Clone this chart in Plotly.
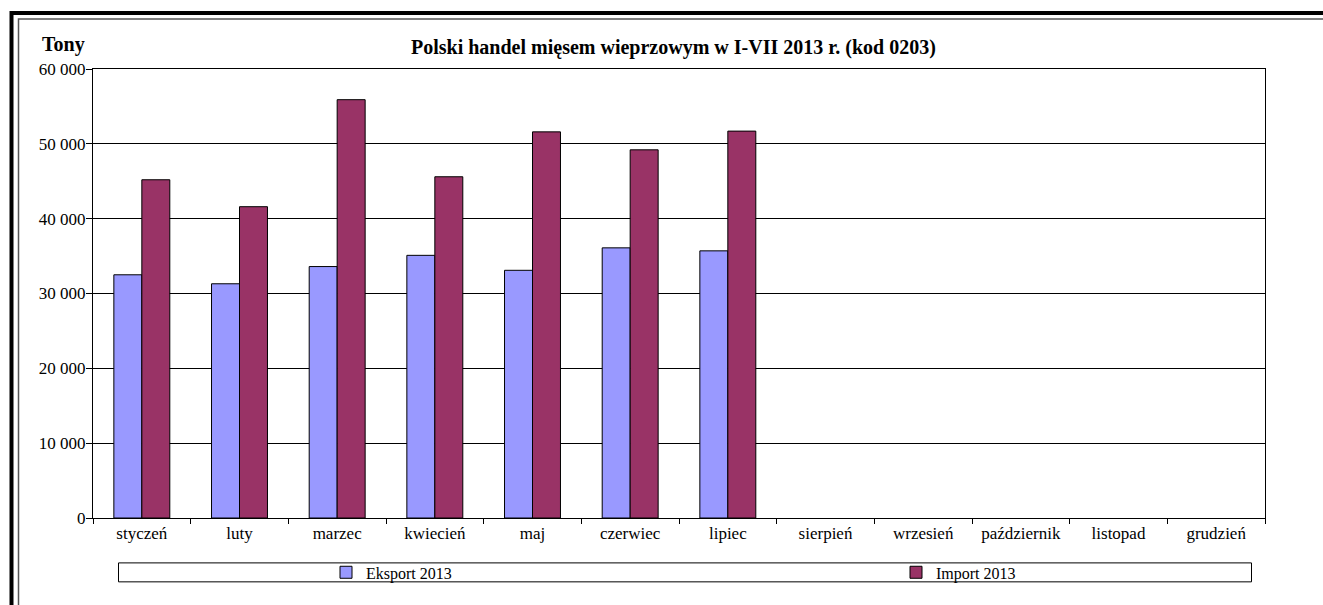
import plotly.graph_objects as go

months = ["styczeń", "luty", "marzec", "kwiecień", "maj", "czerwiec", "lipiec",
          "sierpień", "wrzesień", "październik", "listopad", "grudzień"]
eksport_2013 = [32500, 31300, 33600, 35100, 33100, 36100, 35700, None, None, None, None, None]
import_2013 = [45200, 41600, 55900, 45600, 51600, 49200, 51700, None, None, None, None, None]
y_ticks = [0, 10000, 20000, 30000, 40000, 50000, 60000]

W, H = 1323, 605
L, R, T, B = 93, 1265, 68.5, 518.5
FONT = "Liberation Serif"

def px(x):
    return (x - L) / (R - L)

def py(y):
    return (B - y) / (B - T)

fig = go.Figure()
fig.add_trace(go.Bar(name="Eksport 2013", x=months, y=eksport_2013, legend="legend",
                     marker=dict(color="#9999FF", line=dict(color="#000000", width=1))))
fig.add_trace(go.Bar(name="Import 2013", x=months, y=import_2013, legend="legend2",
                     marker=dict(color="#993366", line=dict(color="#000000", width=1))))

shapes = [
    dict(type="rect", xref="paper", yref="paper", x0=px(11.5), x1=px(1500), y0=py(12.5), y1=py(800),
         line=dict(color="#000000", width=4), layer="below"),
    dict(type="rect", xref="paper", yref="paper", x0=px(18.5), x1=px(1500), y0=py(18.5), y1=py(800),
         line=dict(color="#555555", width=1.5), layer="below"),
    dict(type="rect", xref="paper", yref="paper", x0=px(118.5), x1=px(1251.5), y0=py(563.5), y1=py(582.5),
         line=dict(color="#000000", width=1), fillcolor="rgba(0,0,0,0)"),
]

annotations = [
    dict(text="<b>Polski handel mięsem wieprzowym w I-VII 2013 r. (kod 0203)</b>",
         xref="paper", yref="paper", x=px(673), y=py(47), xanchor="center", yanchor="middle",
         showarrow=False, font=dict(family=FONT, size=20, color="#000000")),
    dict(text="<b>Tony</b>", xref="paper", yref="paper", x=px(63), y=py(44),
         xanchor="center", yanchor="middle", showarrow=False,
         font=dict(family=FONT, size=20, color="#000000")),
]

legend_common = dict(orientation="h", yanchor="middle", bgcolor="rgba(0,0,0,0)", borderwidth=0,
                     font=dict(family=FONT, size=16, color="#000000"), itemclick=False,
                     itemdoubleclick=False)

fig.update_layout(
    width=W, height=H,
    margin=dict(l=L, r=W - R, t=T, b=H - B, pad=0),
    paper_bgcolor="#FFFFFF", plot_bgcolor="#FFFFFF",
    barmode="group", bargap=0.427, bargroupgap=0,
    separators=", ",
    font=dict(family=FONT, size=16, color="#000000"),
    showlegend=True,
    legend=dict(x=px(326), y=py(573), xanchor="left", **legend_common),
    legend2=dict(x=px(896), y=py(573), xanchor="left", **legend_common),
    shapes=shapes,
    annotations=annotations,
)

fig.update_xaxes(type="category", showline=True, linecolor="#000000", linewidth=1, mirror=True,
                 ticks="outside", tickson="boundaries", ticklen=5, tickcolor="#000000",
                 showgrid=False, tickfont=dict(family=FONT, size=17, color="#000000"))
fig.update_yaxes(range=[0, 60000], tickvals=y_ticks, tickformat=",d",
                 showline=True, linecolor="#000000", linewidth=1, mirror=True,
                 ticks="outside", ticklen=6, tickcolor="#000000", ticklabelstandoff=-3,
                 showgrid=True, gridcolor="#000000", gridwidth=1, zeroline=False,
                 tickfont=dict(family=FONT, size=17, color="#000000"))

fig.write_html("out.html", config={"displayModeBar": False},
               post_script="document.body.style.margin='0';document.body.style.overflow='hidden';")
